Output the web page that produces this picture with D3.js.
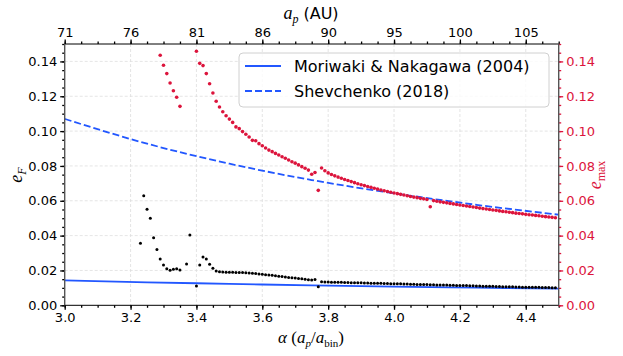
<!DOCTYPE html>
<html>
<head>
<meta charset="utf-8">
<script src="https://cdn.jsdelivr.net/npm/d3@7"></script>
<style>
body{margin:0;background:#fff;}
text{font-family:"DejaVu Sans",sans-serif;}
</style>
</head>
<body>
<script>
// simulation grid: alpha from 3.23 in steps of 0.01 (null = no point / off chart)
var alphaStart = 3.23, alphaStep = 0.01;

// e_F from simulations (black points, left axis)
var eFSim = [
 0.0356,0.0629,0.0551,0.0499,0.0388,0.0321,0.0266,0.0231,0.0210,0.0201, // 3.23-3.32
 0.0207,0.0210,0.0203,null,0.0237,0.0403,null,0.0111,0.0231,0.0277,     // 3.33-3.42
 0.0266,0.0235,0.0212,0.0197,0.0193,0.0191,0.0190,0.0190,0.0190,0.0189, // 3.43-3.52
 0.0189,0.0188,0.0187,0.0186,0.0184,0.0182,0.0180,0.0178,0.0176,0.0174, // 3.53-3.62
 0.0172,0.0169,0.0167,0.0165,0.0162,0.0160,0.0158,0.0156,0.0154,0.0152, // 3.63-3.72
 0.0150,0.0147,0.0145,0.0148,0.0107,0.0135,0.0134,0.0134,0.0133,0.0133, // 3.73-3.82
 0.0132,0.0132,0.0131,0.0131,0.0130,0.0130,0.0129,0.0129,0.0128,0.0128, // 3.83-3.92
 0.0127,0.0127,0.0126,0.0126,0.0125,0.0125,0.0124,0.0124,0.0123,0.0123, // 3.93-4.02
 0.0122,0.0122,0.0121,0.0121,0.0120,0.0120,0.0119,0.0119,0.0118,0.0118, // 4.03-4.12
 0.0117,0.0117,0.0116,0.0116,0.0115,0.0115,0.0114,0.0114,0.0113,0.0113, // 4.13-4.22
 0.0112,0.0112,0.0111,0.0111,0.0110,0.0110,0.0109,0.0109,0.0108,0.0108, // 4.23-4.32
 0.0107,0.0107,0.0106,0.0106,0.0105,0.0105,0.0104,0.0104,0.0104,0.0103, // 4.33-4.42
 0.0103,0.0103,0.0102,0.0102,0.0102,0.0101,0.0101                      // 4.43-4.49
];

// e_max from simulations (red points, right axis)
var eMaxSim = [
 null,null,null,null,null,null,0.1435,0.1378,0.1330,0.1276,             // 3.23-3.32
 0.1232,0.1194,0.1142,null,null,null,null,0.1458,0.1389,0.1376,         // 3.33-3.42
 0.1330,0.1272,0.1219,0.1171,0.1138,0.1111,0.1088,0.1069,0.1050,0.1024, // 3.43-3.52
 0.1014,0.0997,0.0982,0.0966,0.0947,0.0945,0.0928,0.0916,0.0903,0.0891, // 3.53-3.62
 0.0882,0.0872,0.0863,0.0853,0.0844,0.0834,0.0824,0.0816,0.0806,0.0796, // 3.63-3.72
 0.0787,0.0776,0.0752,0.0762,0.0660,0.0788,0.0772,0.0760,0.0751,0.0743, // 3.73-3.82
 0.0736,0.0729,0.0722,0.0716,0.0710,0.0704,0.0698,0.0692,0.0687,0.0682, // 3.83-3.92
 0.0677,0.0672,0.0667,0.0662,0.0658,0.0653,0.0649,0.0645,0.0641,0.0637, // 3.93-4.02
 0.0633,0.0629,0.0625,0.0621,0.0618,0.0614,0.0611,0.0607,0.0566,0.0601, // 4.03-4.12
 0.0597,0.0594,0.0591,0.0588,0.0585,0.0582,0.0579,0.0576,0.0573,0.0570, // 4.13-4.22
 0.0567,0.0564,0.0561,0.0558,0.0555,0.0553,0.0550,0.0547,0.0545,0.0542, // 4.23-4.32
 0.0539,0.0537,0.0534,0.0532,0.0529,0.0527,0.0525,0.0522,0.0520,0.0518, // 4.33-4.42
 0.0516,0.0514,0.0511,0.0509,0.0507,0.0505,0.0503                      // 4.43-4.49
];

// analytic curves
var mnAlpha = [3.0, 3.25, 3.5, 3.75, 4.0, 4.25, 4.5];
var mnEF    = [0.0143, 0.0132, 0.0123, 0.0114, 0.0107, 0.0101, 0.0096];
var shAlpha = [3.0, 3.25, 3.5, 3.75, 4.0, 4.25, 4.5];
var shEF    = [0.1070, 0.0928, 0.0813, 0.0719, 0.0643, 0.0577, 0.0520];

var legendLabels = ["Moriwaki & Nakagawa (2004)", "Shevchenko (2018)"];
var topTickLabels = ["71", "76", "81", "86", "90", "95", "100", "105"];

window.onload = function(){

    var w = 623, h = 356;
    var left = 64.7, right = 558.7, top = 44, bottom = 305.3;
    var blue = "#2257ff", red = "#dc143c";

    var svg = d3.select("body").append("svg")
        .attr("width", w)
        .attr("height", h);

    var x = d3.scaleLinear().domain([3.0, 4.5]).range([left, right]);
    var y = d3.scaleLinear().domain([0, 0.15]).range([bottom, top]);
    var yR = d3.scaleLinear().domain([0, 0.15]).range([bottom, top]);

    var xMajor = d3.range(0, 8).map(function(i){ return +(3 + i*0.2).toFixed(2); });
    var xMinor = d3.range(0, 31).map(function(i){ return +(3 + i*0.05).toFixed(2); });
    var yMajor = d3.range(0, 8).map(function(i){ return +(i*0.02).toFixed(2); });
    var yMinor = d3.range(0, 31).map(function(i){ return +(i*0.005).toFixed(3); });

    //grid
    var grid = svg.append("g").attr("class", "grid");
    grid.selectAll(".gx").data(xMajor.slice(1)).enter().append("line")
        .attr("x1", function(d){ return x(d); }).attr("x2", function(d){ return x(d); })
        .attr("y1", top).attr("y2", bottom)
        .attr("stroke", "#dedede").attr("stroke-width", 0.8).attr("stroke-dasharray", "3,2");
    grid.selectAll(".gy").data(yMajor.slice(1)).enter().append("line")
        .attr("y1", function(d){ return y(d); }).attr("y2", function(d){ return y(d); })
        .attr("x1", left).attr("x2", right)
        .attr("stroke", "#dedede").attr("stroke-width", 0.8).attr("stroke-dasharray", "3,2");

    //analytic lines
    var line = d3.line()
        .x(function(d){ return x(d[0]); })
        .y(function(d){ return y(d[1]); })
        .curve(d3.curveMonotoneX);

    svg.append("path")
        .datum(d3.zip(mnAlpha, mnEF))
        .attr("d", line)
        .attr("fill", "none").attr("stroke", blue).attr("stroke-width", 1.8);

    svg.append("path")
        .datum(d3.zip(shAlpha, shEF))
        .attr("d", line)
        .attr("fill", "none").attr("stroke", blue).attr("stroke-width", 1.8)
        .attr("stroke-dasharray", "7,3");

    //simulation points
    function toPoints(arr){
        return arr.map(function(v, i){ return {a: alphaStart + i*alphaStep, v: v}; })
            .filter(function(d){ return d.v !== null; });
    }

    svg.selectAll(".black").data(toPoints(eFSim)).enter().append("circle")
        .attr("class", "black")
        .attr("cx", function(d){ return x(d.a); })
        .attr("cy", function(d){ return y(d.v); })
        .attr("r", 1.5)
        .attr("fill", "#000");

    svg.selectAll(".red").data(toPoints(eMaxSim)).enter().append("circle")
        .attr("class", "red")
        .attr("cx", function(d){ return x(d.a); })
        .attr("cy", function(d){ return yR(d.v); })
        .attr("r", 1.8)
        .attr("fill", red);

    //axes
    function styleAxis(g, color){
        g.select(".domain").remove();
        g.selectAll("line").attr("stroke", color).attr("stroke-width", 1.3);
        g.selectAll("text").attr("fill", color).style("font-size", "13px");
    }

    var gb = svg.append("g").attr("transform", "translate(0," + bottom + ")");
    gb.call(d3.axisBottom(x).tickValues(xMinor).tickFormat("").tickSize(2.5).tickSizeOuter(0));
    styleAxis(gb, "#000");
    var gb2 = svg.append("g").attr("transform", "translate(0," + bottom + ")");
    gb2.call(d3.axisBottom(x).tickValues(xMajor).tickFormat(d3.format(".1f")).tickSize(4.5).tickPadding(3).tickSizeOuter(0));
    styleAxis(gb2, "#000");

    var gt = svg.append("g").attr("transform", "translate(0," + top + ")");
    gt.call(d3.axisTop(x).tickValues(xMinor).tickFormat("").tickSize(2.5).tickSizeOuter(0));
    styleAxis(gt, "#000");
    var gt2 = svg.append("g").attr("transform", "translate(0," + top + ")");
    gt2.call(d3.axisTop(x).tickValues(xMajor)
        .tickFormat(function(d, i){ return topTickLabels[i]; })
        .tickSize(4.5).tickPadding(3).tickSizeOuter(0));
    styleAxis(gt2, "#000");

    var gl = svg.append("g").attr("transform", "translate(" + left + ",0)");
    gl.call(d3.axisLeft(y).tickValues(yMinor).tickFormat("").tickSize(2.5).tickSizeOuter(0));
    styleAxis(gl, "#000");
    var gl2 = svg.append("g").attr("transform", "translate(" + left + ",0)");
    gl2.call(d3.axisLeft(y).tickValues(yMajor).tickFormat(d3.format(".2f")).tickSize(4.5).tickPadding(3).tickSizeOuter(0));
    styleAxis(gl2, "#000");

    var gr = svg.append("g").attr("transform", "translate(" + right + ",0)");
    gr.call(d3.axisRight(yR).tickValues(yMinor).tickFormat("").tickSize(2.5).tickSizeOuter(0));
    styleAxis(gr, red);
    var gr2 = svg.append("g").attr("transform", "translate(" + right + ",0)");
    gr2.call(d3.axisRight(yR).tickValues(yMajor).tickFormat(d3.format(".2f")).tickSize(4.5).tickPadding(3).tickSizeOuter(0));
    styleAxis(gr2, red);

    //frame
    svg.append("line").attr("x1", left).attr("x2", right).attr("y1", top).attr("y2", top)
        .attr("stroke", "#000").attr("stroke-width", 1);
    svg.append("line").attr("x1", left).attr("x2", right).attr("y1", bottom).attr("y2", bottom)
        .attr("stroke", "#000").attr("stroke-width", 1);
    svg.append("line").attr("x1", left).attr("x2", left).attr("y1", top).attr("y2", bottom)
        .attr("stroke", "#555").attr("stroke-width", 1.4);
    svg.append("line").attr("x1", right).attr("x2", right).attr("y1", top).attr("y2", bottom)
        .attr("stroke", "#555").attr("stroke-width", 1.4);

    //legend
    var leg = svg.append("g").attr("class", "legend");
    leg.append("rect")
        .attr("x", 239).attr("y", 53).attr("width", 310).attr("height", 54)
        .attr("rx", 4)
        .attr("fill", "#fff").attr("fill-opacity", 0.8)
        .attr("stroke", "#d0d0d0").attr("stroke-width", 1);
    legendLabels.forEach(function(lbl, i){
        var ly = 66 + i*25;
        leg.append("line")
            .attr("x1", 245).attr("x2", 281).attr("y1", ly).attr("y2", ly)
            .attr("stroke", blue).attr("stroke-width", 1.8)
            .attr("stroke-dasharray", i === 1 ? "7,3" : null);
        leg.append("text")
            .attr("x", 294).attr("y", ly + 5.5)
            .style("font-size", "16px")
            .text(lbl);
    });

    //axis titles
    var serif = "'Liberation Serif','DejaVu Serif',serif";
    var tt = svg.append("text")
        .attr("x", 311).attr("y", 19)
        .attr("text-anchor", "middle")
        .style("font-size", "16px");
    tt.append("tspan").style("font-family", serif).style("font-style", "italic").style("font-size", "18px").text("a");
    tt.append("tspan").style("font-family", serif).style("font-style", "italic").style("font-size", "12px").attr("dy", 4).text("p");
    tt.append("tspan").attr("dy", -4).text(" (AU)");

    var bt = svg.append("text")
        .attr("x", 311).attr("y", 343)
        .attr("text-anchor", "middle")
        .style("font-family", serif)
        .style("font-size", "17px");
    bt.append("tspan").style("font-style", "italic").text("α");
    bt.append("tspan").text(" (");
    bt.append("tspan").style("font-style", "italic").text("a");
    bt.append("tspan").style("font-style", "italic").style("font-size", "11px").attr("dy", 4).text("p");
    bt.append("tspan").attr("dy", -4).text("/");
    bt.append("tspan").style("font-style", "italic").text("a");
    bt.append("tspan").style("font-size", "11px").attr("dy", 4).text("bin");
    bt.append("tspan").attr("dy", -4).text(")");

    var lt = svg.append("text")
        .attr("transform", "translate(22,175) rotate(-90)")
        .attr("text-anchor", "middle")
        .style("font-family", serif)
        .style("font-size", "18px");
    lt.append("tspan").style("font-style", "italic").text("e");
    lt.append("tspan").style("font-style", "italic").style("font-size", "12px").attr("dy", 4).text("F");

    var rt = svg.append("text")
        .attr("transform", "translate(601,175) rotate(-90)")
        .attr("text-anchor", "middle")
        .attr("fill", red)
        .style("font-family", serif)
        .style("font-size", "18px");
    rt.append("tspan").style("font-style", "italic").text("e");
    rt.append("tspan").style("font-size", "12px").attr("dy", 4).text("max");
};
</script>
</body>
</html>
